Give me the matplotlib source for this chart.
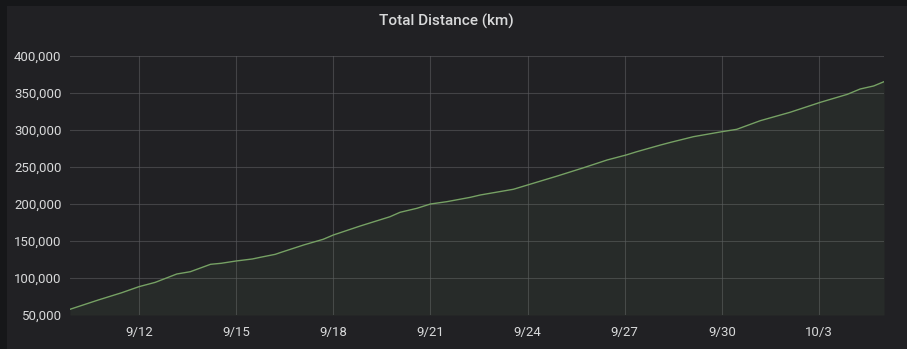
import matplotlib
matplotlib.use("Agg")
import matplotlib.pyplot as plt
import pandas as pd
from matplotlib.patches import Rectangle
from matplotlib.ticker import FuncFormatter

# readings of the cumulative distance (km), taken off the chart
times = [
    "2021-09-09 20:50", "2021-09-10 17:50", "2021-09-11 11:10", "2021-09-12 00:00",
    "2021-09-12 12:00", "2021-09-13 04:00", "2021-09-13 14:00", "2021-09-14 05:00",
    "2021-09-14 13:00", "2021-09-15 00:00", "2021-09-15 12:00", "2021-09-15 18:00",
    "2021-09-16 05:00", "2021-09-16 08:30", "2021-09-17 02:00", "2021-09-17 16:30",
    "2021-09-18 00:00", "2021-09-18 20:00", "2021-09-19 18:00", "2021-09-20 01:30",
    "2021-09-20 14:00", "2021-09-21 00:00", "2021-09-21 12:00", "2021-09-22 05:30",
    "2021-09-22 13:00", "2021-09-23 13:30", "2021-09-24 00:00", "2021-09-24 22:00",
    "2021-09-25 17:30", "2021-09-26 11:00", "2021-09-27 01:00", "2021-09-27 09:00",
    "2021-09-28 02:30", "2021-09-28 10:00", "2021-09-29 03:00", "2021-09-30 00:00",
    "2021-09-30 11:00", "2021-10-01 04:30", "2021-10-02 02:30", "2021-10-03 01:00",
    "2021-10-03 21:00", "2021-10-04 06:30", "2021-10-04 16:30", "2021-10-05 00:10",
]
distance = [
    57700, 70300, 80100, 88300,
    94100, 105400, 108500, 118500,
    119900, 123000, 125700, 128000,
    132000, 134200, 144600, 152300,
    158100, 170300, 182800, 188800,
    194200, 200000, 203100, 209000,
    212200, 219900, 225700, 237800,
    249000, 259500, 266200, 270700,
    279700, 283300, 291000, 297700,
    300900, 312600, 323900, 337400,
    348200, 355400, 359500, 365300,
]
tick_days = ["2021-09-12", "2021-09-15", "2021-09-18", "2021-09-21",
             "2021-09-24", "2021-09-27", "2021-09-30", "2021-10-03"]
tick_labels = ["9/12", "9/15", "9/18", "9/21", "9/24", "9/27", "9/30", "10/3"]

t = pd.to_datetime(times)

plt.rcParams["font.family"] = ["Roboto", "DejaVu Sans"]

fig = plt.figure(figsize=(9.07, 3.49), dpi=100)
fig.patch.set_facecolor("#161719")
# panel background, the outer strip stays darker
fig.patches.append(Rectangle((7 / 907, 0), 1, 1 - 6 / 349, transform=fig.transFigure,
                             facecolor="#212124", edgecolor="none", zorder=-10))

ax = fig.add_axes([70 / 907, 1 - 315 / 349, 814 / 907, 259 / 349])
ax.set_facecolor("#212124")

line_color = "#76a164"
ax.plot(t, distance, color=line_color, linewidth=1.0)
ax.fill_between(t, distance, 50000, color=line_color, alpha=0.08, linewidth=0)

ax.set_xlim(t[0], t[-1])
ax.set_ylim(50000, 400000)
ax.set_yticks(range(50000, 400001, 50000))
ax.yaxis.set_major_formatter(FuncFormatter(lambda v, p: f"{int(v):,}"))
ax.set_xticks(pd.to_datetime(tick_days))
ax.set_xticklabels(tick_labels)

ax.grid(True, color="#5a5a5e", linewidth=0.8, alpha=0.6)
ax.set_axisbelow(True)
for s in ax.spines.values():
    s.set_visible(False)
ax.tick_params(axis="both", length=0, colors="#d8d9da", labelsize=9.5)
ax.tick_params(axis="y", pad=6)
ax.tick_params(axis="x", pad=8)

fig.text(446 / 907, 1 - 21 / 349, "Total Distance (km)", ha="center", va="center",
         color="#d8d9da", fontsize=11, fontweight="medium")

fig.savefig("out.png", dpi=100, facecolor=fig.get_facecolor())
